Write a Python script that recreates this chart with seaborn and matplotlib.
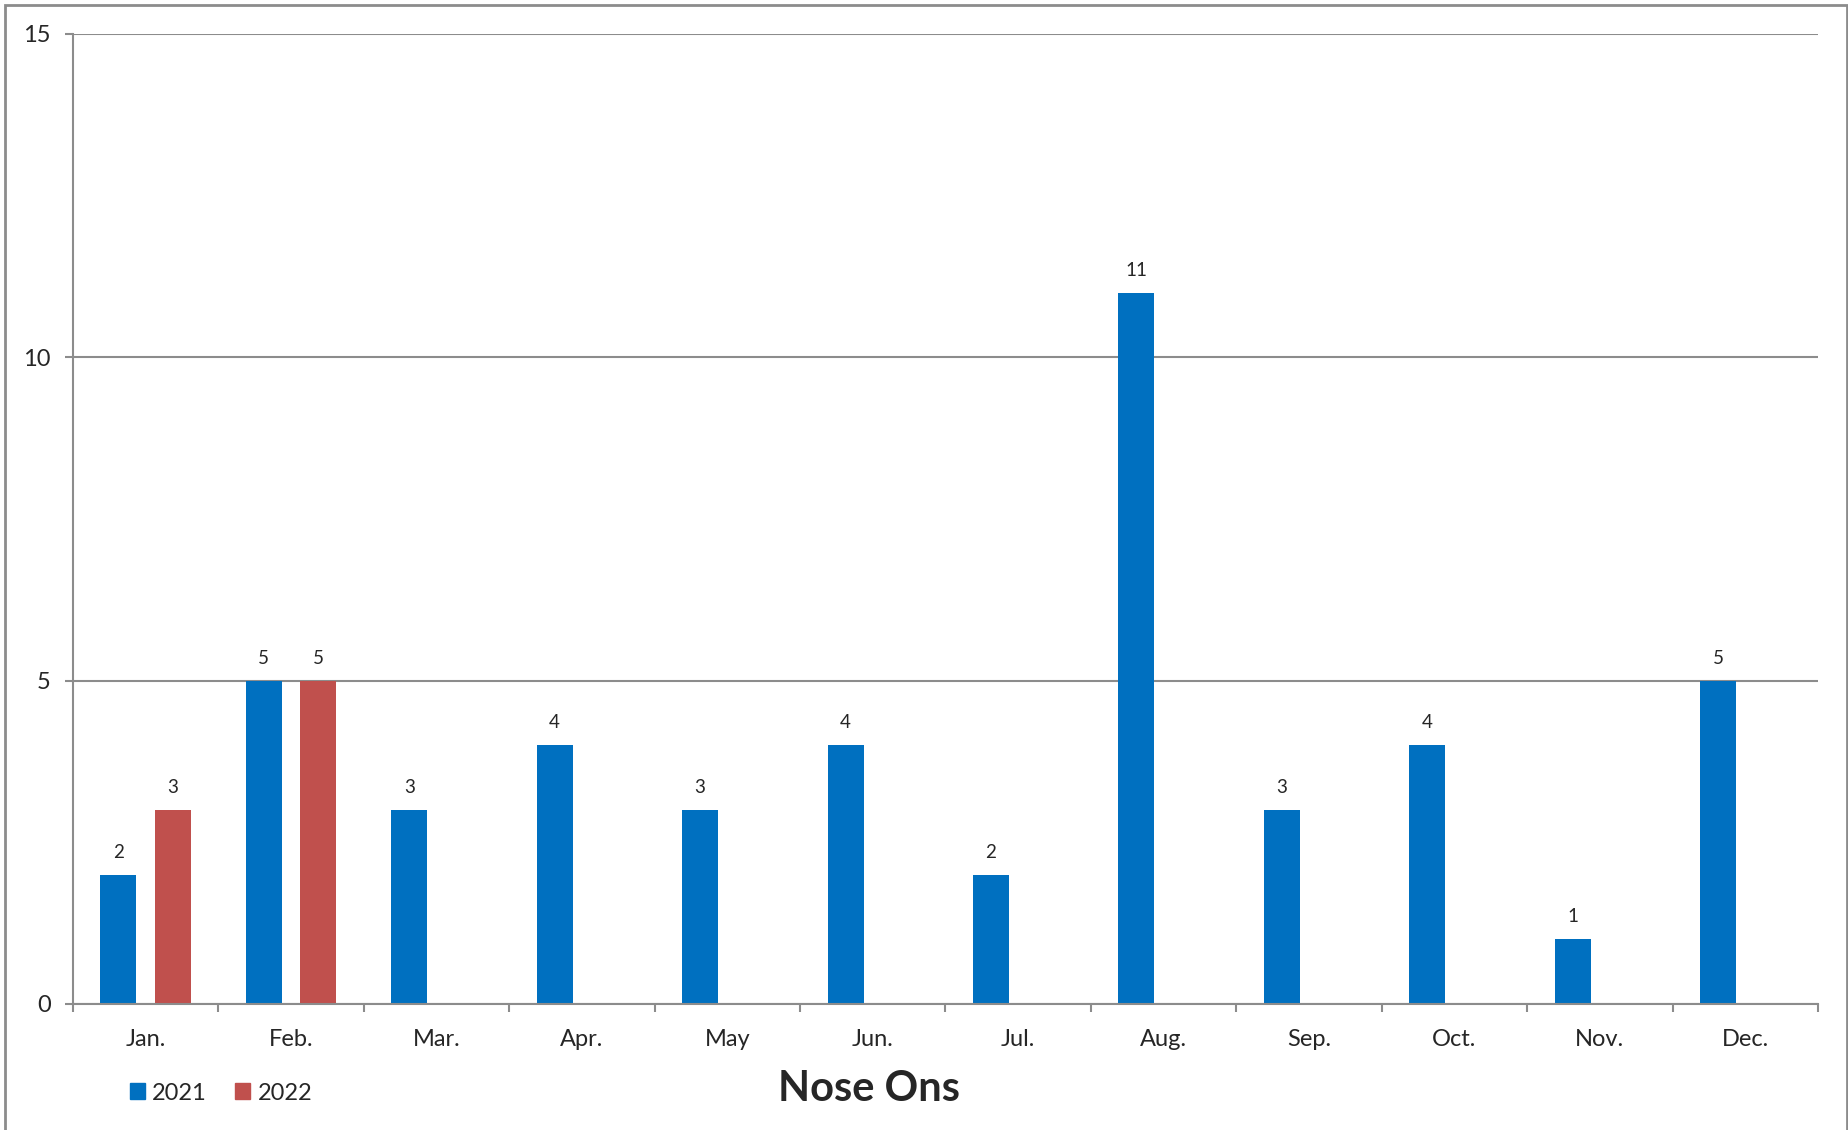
import pandas as pd
import numpy as np
import matplotlib.pyplot as plt
import seaborn as sns
from matplotlib.patches import Rectangle

# dados
meses = ['Jan.', 'Feb.', 'Mar.', 'Apr.', 'May', 'Jun.', 'Jul.', 'Aug.',
         'Sep.', 'Oct.', 'Nov.', 'Dec.']
valores_2021 = [2, 5, 3, 4, 3, 4, 2, 11, 3, 4, 1, 5]
valores_2022 = [3, 5, None, None, None, None, None, None, None, None, None, None]
anos = ['2021', '2022']
cores = ['#0070C0', '#C0504D']

df = pd.DataFrame({
    'Mes': meses * 2,
    'Ano': ['2021'] * 12 + ['2022'] * 12,
    'Valor': valores_2021 + valores_2022,
}).dropna()

sns.set_style('white')
plt.rcParams['font.family'] = ['Lato', 'DejaVu Sans']

fig = plt.figure(figsize=(18.49, 11.30), dpi=100)
ax = fig.add_axes([73 / 1849, 1 - 1004 / 1130, (1818 - 73) / 1849, (1004 - 34) / 1130])

sns.barplot(data=df, x='Mes', y='Valor', hue='Ano', order=meses, hue_order=anos,
            palette=cores, width=0.75, gap=0.34, linewidth=0, saturation=1,
            errorbar=None, ax=ax)

# rótulos de valor em cima das barras
for cont in ax.containers:
    ax.bar_label(cont, fmt='%g', padding=10, fontsize=13.5)

ax.set_xlim(-0.5, 11.5)
ax.set_ylim(0, 15)
ax.set_yticks([0, 5, 10, 15])
ax.set_xlabel('')
ax.set_ylabel('')

cinza = '#8C8C8C'
ax.grid(axis='y', color=cinza, linewidth=1.5)
ax.set_axisbelow(True)
for lado in ['top', 'right']:
    ax.spines[lado].set_visible(False)
for lado in ['left', 'bottom']:
    ax.spines[lado].set_color(cinza)
    ax.spines[lado].set_linewidth(1.5)

ax.tick_params(axis='y', left=True, length=6, width=1.5, color=cinza,
               pad=10, labelsize=17)
ax.set_xticks(np.arange(-0.5, 12, 1), minor=True)
ax.tick_params(axis='x', which='minor', bottom=True, length=6, width=1.5,
               color=cinza, direction='out')
ax.tick_params(axis='x', which='major', bottom=False, length=0, pad=18,
               labelsize=17)

# legenda
ax.get_legend().remove()
handles = [Rectangle((0, 0), 1, 1, color=c) for c in cores]
fig.legend(handles, anos, loc='center left',
           bbox_to_anchor=(130 / 1849, 1 - 1093 / 1130),
           ncol=2, frameon=False, fontsize=17, borderpad=0, borderaxespad=0,
           handlelength=0.64, handleheight=0.64, handletextpad=0.3,
           columnspacing=1.2)

# título embaixo
fig.text(869 / 1849, 1 - 1089 / 1130, 'Nose Ons', ha='center', va='center',
         fontsize=30, fontweight='bold')

# moldura externa
fig.patches.append(Rectangle((5 / 1849, -0.02), (1847 - 5) / 1849, 1.02 - 5 / 1130,
                             transform=fig.transFigure, fill=False,
                             edgecolor='#8C8C8C', linewidth=2))

plt.savefig('out.png', dpi=100)
